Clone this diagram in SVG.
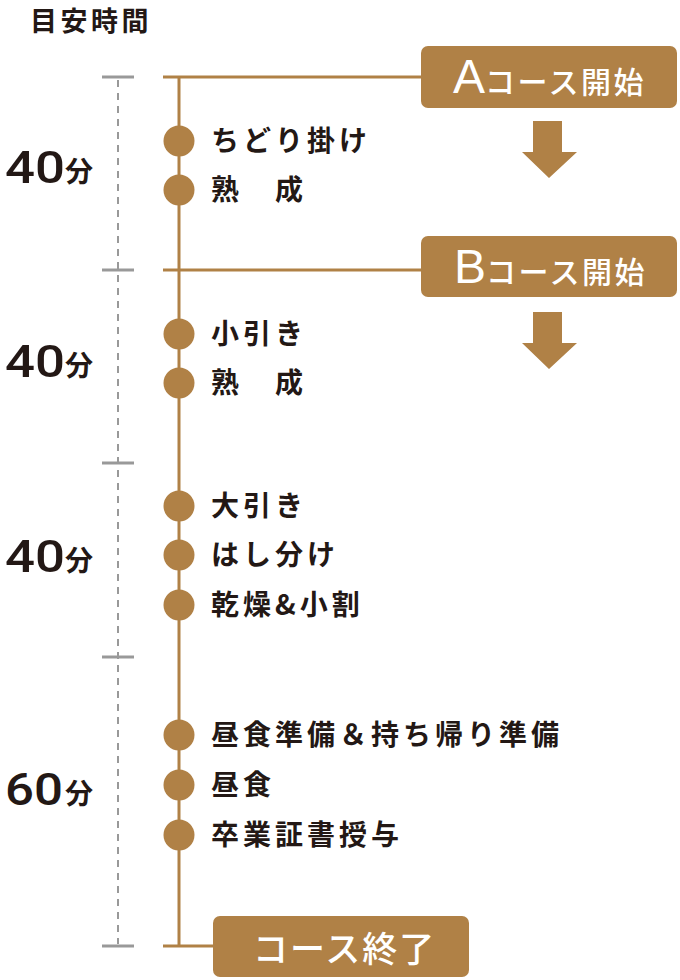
<svg xmlns="http://www.w3.org/2000/svg" width="680" height="980" viewBox="0 0 680 980">
<style>
.jp{font-family:"Noto Sans CJK JP","Noto Sans",sans-serif;font-weight:700;fill:#231815}
.lbl{font-size:28px;letter-spacing:4px}
.num{font-family:Roboto,"Liberation Sans",Arial,sans-serif;font-weight:500;font-size:44px;fill:#231815}
.fun{font-size:28px}
.box{fill:#b08146}
.btxt{fill:#fff;font-family:"Noto Sans CJK JP",sans-serif;font-weight:500}
.lat{font-family:"Liberation Sans",Arial,sans-serif;font-size:48px;fill:#fff}
.dot{fill:#b08146}
.tick{stroke:#999;stroke-width:3}
.dash{stroke:#999;stroke-width:2;stroke-dasharray:7 6;fill:none}
.bl{stroke:#b08146;stroke-width:3;fill:none}
</style>

<g id="title"><text class="jp" x="30" y="31" font-size="27" letter-spacing="3.5">目安時間</text></g>

<g id="scale">
<line class="dash" x1="118" y1="80" x2="118" y2="944"/>
<line class="tick" x1="102" y1="77" x2="134" y2="77"/>
<line class="tick" x1="102" y1="270" x2="134" y2="270"/>
<line class="tick" x1="102" y1="463" x2="134" y2="463"/>
<line class="tick" x1="102" y1="657" x2="134" y2="657"/>
<line class="tick" x1="102" y1="946" x2="134" y2="946"/>
</g>

<g id="t1"><text class="num" x="5" y="183" textLength="60" lengthAdjust="spacingAndGlyphs">40</text><text class="jp fun" x="65" y="182">分</text></g>
<g id="t2"><text class="num" x="5" y="377" textLength="60" lengthAdjust="spacingAndGlyphs">40</text><text class="jp fun" x="65" y="376">分</text></g>
<g id="t3"><text class="num" x="5" y="572" textLength="60" lengthAdjust="spacingAndGlyphs">40</text><text class="jp fun" x="65" y="571">分</text></g>
<g id="t4"><text class="num" x="5" y="805" textLength="58" lengthAdjust="spacingAndGlyphs">60</text><text class="jp fun" x="65" y="804">分</text></g>

<g id="connectors">
<line class="bl" x1="179" y1="77" x2="179" y2="946"/>
<line class="bl" x1="163" y1="77" x2="422" y2="77"/>
<line class="bl" x1="163" y1="270" x2="422" y2="270"/>
<line class="bl" x1="163" y1="946" x2="214" y2="946"/>
<polygon class="dot" points="533,121 562,121 562,152 577,152 549,178 522,152 533,152"/>
<polygon class="dot" points="533,312 562,312 562,343 577,343 549,369 522,343 533,343"/>
</g>

<g id="startA"><rect class="box" x="421" y="46" width="256" height="62" rx="7"/><text x="453" y="93"><tspan class="lat">A</tspan><tspan class="btxt" font-size="30" letter-spacing="2.5">コース開始</tspan></text></g>
<g id="startB"><rect class="box" x="421" y="236" width="256" height="61" rx="7"/><text x="454" y="283"><tspan class="lat">B</tspan><tspan class="btxt" font-size="30" letter-spacing="2.5">コース開始</tspan></text></g>
<g id="end"><rect class="box" x="213" y="916" width="256" height="61" rx="7"/><text class="btxt" x="253" y="962" font-size="35" letter-spacing="2">コース終了</text></g>

<g id="e1"><circle class="dot" cx="179" cy="141" r="15.5"/><text class="jp lbl" x="211" y="151">ちどり掛け</text></g>
<g id="e2"><circle class="dot" cx="179" cy="190" r="15.5"/><text class="jp lbl" x="211" y="200">熟　成</text></g>
<g id="e3"><circle class="dot" cx="179" cy="334" r="15.5"/><text class="jp lbl" x="211" y="344">小引き</text></g>
<g id="e4"><circle class="dot" cx="179" cy="383" r="15.5"/><text class="jp lbl" x="211" y="393">熟　成</text></g>
<g id="e5"><circle class="dot" cx="179" cy="506" r="15.5"/><text class="jp lbl" x="211" y="516">大引き</text></g>
<g id="e6"><circle class="dot" cx="179" cy="555" r="15.5"/><text class="jp lbl" x="211" y="565">はし分け</text></g>
<g id="e7"><circle class="dot" cx="179" cy="605" r="15.5"/><text class="jp lbl" x="211" y="615">乾燥&amp;小割</text></g>
<g id="e8"><circle class="dot" cx="179" cy="735" r="15.5"/><text class="jp lbl" x="211" y="745">昼食準備＆持ち帰り準備</text></g>
<g id="e9"><circle class="dot" cx="179" cy="785" r="15.5"/><text class="jp lbl" x="211" y="795">昼食</text></g>
<g id="e10"><circle class="dot" cx="179" cy="835" r="15.5"/><text class="jp lbl" x="211" y="845">卒業証書授与</text></g>
</svg>
